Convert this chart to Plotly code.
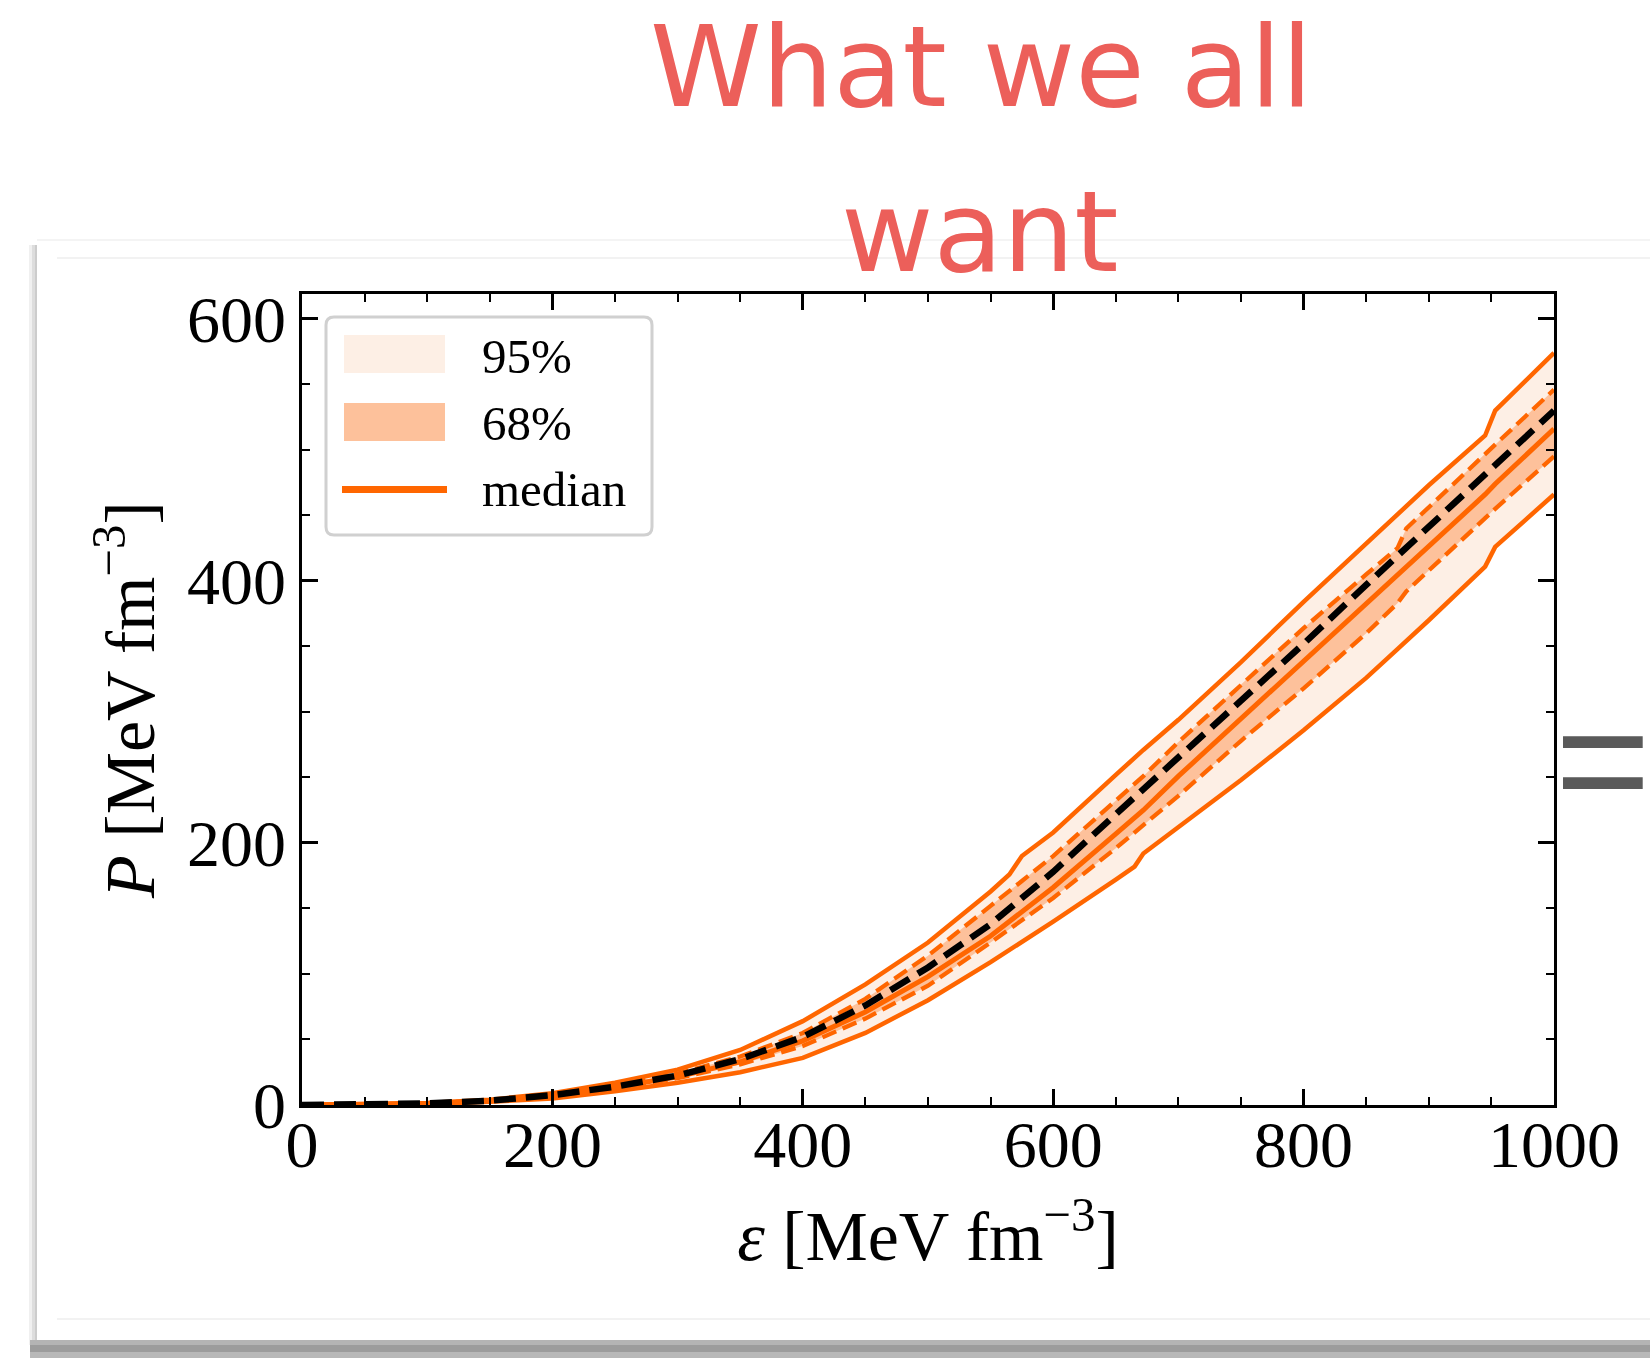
import plotly.graph_objects as go

# ---------------- data ----------------
eps = [0, 50, 100, 150, 200, 250, 300, 350, 400, 450, 500, 550, 565, 575, 600,
       650, 665, 672, 700, 750, 800, 850, 875, 882, 900, 945, 953, 1000]
p95_hi = [0, 0.5, 1.5, 4, 9, 17, 27, 42, 64, 92, 124, 163, 176, 190, 208,
          252, 265, 271, 294, 338, 384, 428, 450, 456, 473, 511, 530, 574]
p68_hi = [0, 0.4, 1.3, 3.5, 8, 15, 24, 37, 55, 81, 114, 152, 163, 171, 190,
          232, 245, 251, 277, 321, 364, 405, 425, 440, 456, 497, 504, 546]
p_median = [0, 0.3, 1.1, 3.1, 7, 13.5, 21.5, 33, 49, 71, 98, 129, 140, 148, 166,
            207, 219, 225, 251, 295, 338, 382, 404, 410, 426, 466, 474, 516]
p_true = [0, 0.4, 1.2, 3.3, 7.5, 14, 22.5, 35, 52, 76, 105, 138, 150, 158, 178,
          222, 235, 241, 265, 310, 352, 397, 419, 425, 441, 481, 488, 530]
p68_lo = [0, 0.3, 1.0, 2.9, 6.5, 12.5, 20.5, 31, 45, 66, 91, 124, 134, 141, 158,
          196, 208, 213, 236, 278, 318, 360, 383, 392, 408, 448, 455, 495]
p95_lo = [0, 0.2, 0.8, 2.4, 5, 10.5, 17, 25, 36, 55, 80, 109, 118, 124, 140,
          172, 182, 192, 212, 248, 286, 326, 348, 354, 370, 411, 426, 466]

x_ticks = [0, 200, 400, 600, 800, 1000]
y_ticks = [0, 200, 400, 600]
legend_labels = ["95%", "68%", "median"]
title_lines = ["What we all", "want"]

# ---------------- styling ----------------
W, H = 1650, 1358
L, R, T, B = 302, 96, 294, 253
PW, PH = W - L - R, H - T - B
ORANGE = "#ff6600"
FILL95 = "#fdefe5"
FILL68 = "#fdc19b"
SERIF = "Liberation Serif"


def px(X):
    return (X - L) / PW


def py(Y):
    return (H - B - Y) / PH


fig = go.Figure()
fig.add_trace(go.Scatter(x=eps, y=p95_lo, mode="lines", line=dict(width=0),
                         showlegend=False, hoverinfo="skip"))
fig.add_trace(go.Scatter(x=eps, y=p95_hi, mode="lines", line=dict(width=0),
                         fill="tonexty", fillcolor=FILL95, showlegend=False, hoverinfo="skip"))
fig.add_trace(go.Scatter(x=eps, y=p68_lo, mode="lines", line=dict(width=0),
                         showlegend=False, hoverinfo="skip"))
fig.add_trace(go.Scatter(x=eps, y=p68_hi, mode="lines", line=dict(width=0),
                         fill="tonexty", fillcolor=FILL68, showlegend=False, hoverinfo="skip"))
for yy in (p95_hi, p95_lo):
    fig.add_trace(go.Scatter(x=eps, y=yy, mode="lines",
                             line=dict(color=ORANGE, width=4.5), showlegend=False))
for yy in (p68_hi, p68_lo):
    fig.add_trace(go.Scatter(x=eps, y=yy, mode="lines",
                             line=dict(color=ORANGE, width=4.3, dash="15px,7px"), showlegend=False))
fig.add_trace(go.Scatter(x=eps, y=p_median, mode="lines",
                         line=dict(color=ORANGE, width=5), showlegend=False))
fig.add_trace(go.Scatter(x=eps, y=p_true, mode="lines",
                         line=dict(color="black", width=6.5, dash="22px,10px"), showlegend=False))

axis_common = dict(
    ticks="inside", ticklen=16, tickwidth=2.5, tickcolor="black",
    showline=True, linewidth=2.5, linecolor="black", mirror="allticks",
    showgrid=False, zeroline=False,
    tickfont=dict(family=SERIF, size=66, color="black"),
)
fig.update_xaxes(
    range=[0, 1000], tickmode="array", tickvals=x_ticks, ticktext=[str(v) for v in x_ticks],
    minor=dict(ticks="inside", ticklen=8, tickwidth=2, tickcolor="black", dtick=50, tick0=0, showgrid=False),
    title=dict(text="<i>ε</i> [MeV fm<sup>−3</sup>]", font=dict(family=SERIF, size=70, color="black"),
               standoff=32),
    ticklabelstandoff=-20,
    **axis_common,
)
fig.update_yaxes(
    range=[0, 619], tickmode="array", tickvals=y_ticks, ticktext=[str(v) for v in y_ticks],
    minor=dict(ticks="inside", ticklen=8, tickwidth=2, tickcolor="black", dtick=50, tick0=0, showgrid=False),
    title=dict(text="<i>P</i> [MeV fm<sup>−3</sup>]", font=dict(family=SERIF, size=70, color="black"),
               standoff=10),
    **axis_common,
)

shapes = []
# card shadow / edges (outside plot area)
for x0, x1, c in [(29, 32, "#f0f0f0"), (32, 35, "#dddddd"), (35, 37, "#cccccc")]:
    shapes.append(dict(type="rect", xref="paper", yref="paper", x0=px(x0), x1=px(x1),
                       y0=py(1345), y1=py(245), fillcolor=c, line=dict(width=0), layer="below"))
for y0, y1, c in [(1340, 1345, "#b4b4b4"), (1345, 1352, "#9c9c9c"), (1352, 1358, "#b8b8b8")]:
    shapes.append(dict(type="rect", xref="paper", yref="paper", x0=px(30), x1=px(W),
                       y0=py(y1), y1=py(y0), fillcolor=c, line=dict(width=0), layer="below"))
shapes.append(dict(type="line", xref="paper", yref="paper", x0=px(37), x1=px(W), y0=py(240), y1=py(240),
                   line=dict(color="#f0f0f0", width=1.5), layer="below"))
shapes.append(dict(type="line", xref="paper", yref="paper", x0=px(57), x1=px(W), y0=py(258), y1=py(258),
                   line=dict(color="#eeeeee", width=1.5), layer="below"))
shapes.append(dict(type="line", xref="paper", yref="paper", x0=px(57), x1=px(W), y0=py(1319), y1=py(1319),
                   line=dict(color="#eeeeee", width=1.5), layer="below"))

# legend frame (rounded)
lx0, lx1, ly0, ly1 = px(326), px(652), py(535), py(317)
rx, ry = 8 / PW, 8 / PH
path = (f"M {lx0+rx},{ly1} L {lx1-rx},{ly1} Q {lx1},{ly1} {lx1},{ly1-ry} "
        f"L {lx1},{ly0+ry} Q {lx1},{ly0} {lx1-rx},{ly0} L {lx0+rx},{ly0} "
        f"Q {lx0},{ly0} {lx0},{ly0+ry} L {lx0},{ly1-ry} Q {lx0},{ly1} {lx0+rx},{ly1} Z")
shapes.append(dict(type="path", xref="paper", yref="paper", path=path, fillcolor="white",
                   line=dict(color="#d0d0d0", width=3), layer="above"))
shapes.append(dict(type="rect", xref="paper", yref="paper", x0=px(344), x1=px(445), y0=py(373), y1=py(335),
                   fillcolor=FILL95, line=dict(width=0), layer="above"))
shapes.append(dict(type="rect", xref="paper", yref="paper", x0=px(344), x1=px(445), y0=py(441), y1=py(403),
                   fillcolor=FILL68, line=dict(width=0), layer="above"))
shapes.append(dict(type="line", xref="paper", yref="paper", x0=px(342), x1=px(447), y0=py(489.5), y1=py(489.5),
                   line=dict(color=ORANGE, width=7), layer="above"))

annotations = []
for lab, Y in zip(legend_labels, [356, 423, 489]):
    annotations.append(dict(xref="paper", yref="paper", x=px(480), y=py(Y), text=lab, showarrow=False,
                            xanchor="left", yanchor="middle",
                            font=dict(family=SERIF, size=49, color="black")))
# slide title (hand-written look)
annotations.append(dict(xref="paper", yref="paper", x=px(982), y=py(67), text=title_lines[0], showarrow=False,
                        xanchor="center", yanchor="middle",
                        font=dict(family="DejaVu Sans", size=113, color="#ec5f5a")))
annotations.append(dict(xref="paper", yref="paper", x=px(980), y=py(232), text=title_lines[1], showarrow=False,
                        xanchor="center", yanchor="middle",
                        font=dict(family="DejaVu Sans", size=113, color="#ec5f5a")))
# equals sign at right edge
annotations.append(dict(xref="paper", yref="paper", x=px(1553), y=py(759), text="=", showarrow=False,
                        xanchor="left", yanchor="middle",
                        font=dict(family="Liberation Sans", size=164, color="#5a5a5a")))

fig.update_layout(
    width=W, height=H,
    margin=dict(l=L, r=R, t=T, b=B, autoexpand=False),
    paper_bgcolor="white", plot_bgcolor="rgba(0,0,0,0)",
    showlegend=False,
    shapes=shapes, annotations=annotations,
)

fig.write_html("out.html")
